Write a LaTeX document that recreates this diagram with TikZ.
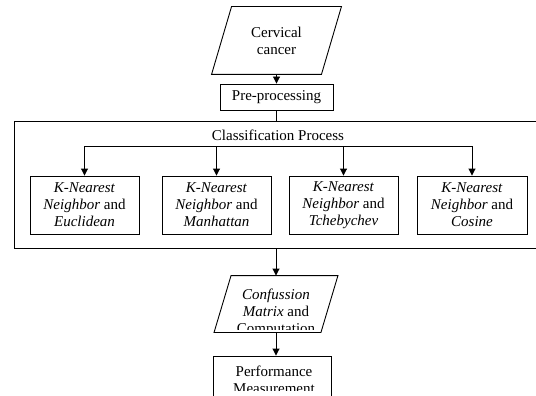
\documentclass[tikz,border=0pt]{standalone}
\usepackage{fontspec}
\setmainfont{Liberation Serif}
\usetikzlibrary{arrows.meta}
\begin{document}
\begin{tikzpicture}[x=1pt,y=-1pt,
  line width=0.9pt,
  arr/.style={draw=black, -{Triangle[length=7pt,width=7pt]}},
  lnk/.style={draw=black},
  txt/.style={font=\fontsize{15}{17}\selectfont, align=center, inner sep=0pt},
  tbox/.style={draw=black, inner sep=0pt, font=\fontsize{15}{17}\selectfont, align=center},
  ghost/.style={inner sep=0pt, font=\fontsize{15}{17}\selectfont, align=center},
]
\useasboundingbox (0,0) rectangle (536,396);
\clip (0,0) rectangle (536,396);

% Cervical cancer (parallelogram)
\node[ghost, minimum width=109pt, minimum height=67pt] (cc) at (276.5,40.5) {Cervical\\cancer};
\draw ([xshift=10pt]cc.north west) -- ([xshift=10pt]cc.north east)
   -- ([xshift=-10pt]cc.south east) -- ([xshift=-10pt]cc.south west) -- cycle;

% Pre-processing
\node[tbox, minimum width=113pt, minimum height=26pt] (pre) at (276.5,97) {Pre-processing};
\draw[arr] (cc.south) -- (pre.north);

% Classification process frame
\node[tbox, minimum width=532pt, minimum height=127pt] (cp) at (280,184.5) {};
\node[txt] (cpl) at (278,135) {Classification Process};
\draw[lnk] (pre.south) -- (pre.south |- cp.north);

% Four classifier boxes
\node[tbox, minimum width=109pt, minimum height=58pt] (k1) at (84.5,205)
  {\textit{K-Nearest}\\\textit{Neighbor} and\\\textit{Euclidean}};
\node[tbox, minimum width=109pt, minimum height=58pt] (k2) at (216.5,205)
  {\textit{K-Nearest}\\\textit{Neighbor} and\\\textit{Manhattan}};
\node[tbox, minimum width=109pt, minimum height=58pt] (k3) at (343.5,205)
  {\textit{K-Nearest}\\\textit{Neighbor} and\\\textit{Tchebychev}};
\node[tbox, minimum width=110pt, minimum height=58pt] (k4) at (472,205)
  {\textit{K-Nearest}\\\textit{Neighbor} and\\\textit{Cosine}};

\coordinate (b1) at (84.5,146);
\coordinate (b2) at (216.5,146);
\coordinate (b3) at (343.5,146);
\coordinate (b4) at (472,146);
\draw[lnk] (b1) -- (b4);
\draw[arr] (b1) -- (k1.north);
\draw[arr] (b2) -- (k2.north);
\draw[arr] (b3) -- (k3.north);
\draw[arr] (b4) -- (k4.north);

% Confusion matrix (parallelogram)
\node[ghost, minimum width=106pt, minimum height=56pt] (cm) at (276,304) {};
\draw ([xshift=8.5pt]cm.north west) -- ([xshift=8.5pt]cm.north east)
   -- ([xshift=-8.5pt]cm.south east) -- ([xshift=-8.5pt]cm.south west) -- cycle;
\begin{scope}
  \clip (200,280) rectangle (350,329);
  \node[txt] (cmt) at (276,312.5) {\textit{Confussion}\\\textit{Matrix} and\\Computation};
\end{scope}
\draw[arr] (cm.north |- cp.south) -- (cm.north);

% Performance measurement
\node[tbox, minimum width=118pt, minimum height=54pt] (pm) at (272,383) {};
\begin{scope}
  \clip (200,350) rectangle (350,390);
  \node[txt] (pmt) at (274,379.3) {Performance\\Measurement};
\end{scope}
\draw[arr] (cm.south) -- (cm.south |- pm.north);
\end{tikzpicture}
\end{document}
